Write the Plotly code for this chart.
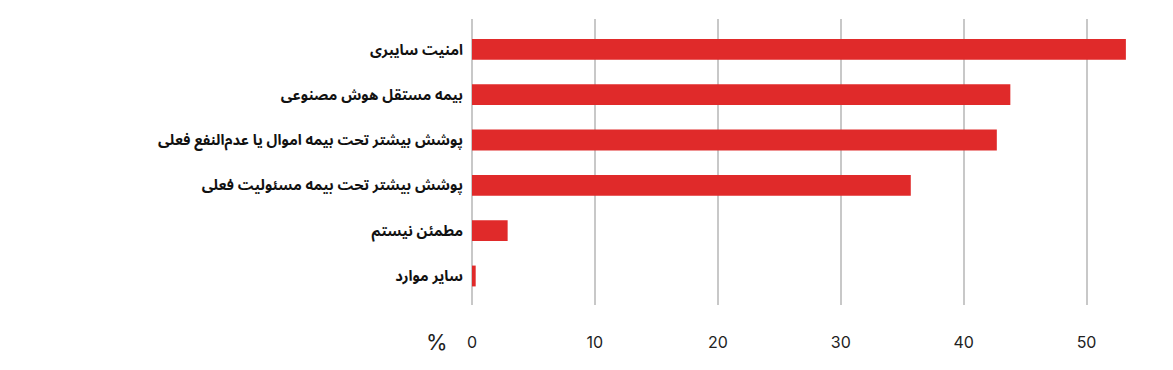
import plotly.graph_objects as go

categories = [
    "امنیت سایبری",
    "بیمه مستقل هوش مصنوعی",
    "پوشش بیشتر تحت بیمه اموال یا عدم‌النفع فعلی",
    "پوشش بیشتر تحت بیمه مسئولیت فعلی",
    "مطمئن نیستم",
    "سایر موارد",
]
values = [53.2, 43.8, 42.7, 35.7, 2.9, 0.3]
tick_vals = [0, 10, 20, 30, 40, 50]
tick_text = ["0", "10", "20", "30", "40", "50"]
unit_label = "%"

fig = go.Figure(
    go.Bar(
        x=values,
        y=categories,
        orientation="h",
        width=0.46,
        marker=dict(color="#e02a2a", line=dict(width=0)),
        hoverinfo="x+y",
    )
)

fig.update_layout(
    width=1173,
    height=370,
    margin=dict(l=472, r=25, t=19, b=65),
    paper_bgcolor="white",
    plot_bgcolor="white",
    showlegend=False,
    font=dict(family="DejaVu Sans, Noto Sans", color="#111111"),
    xaxis=dict(
        range=[0, 55],
        tickvals=tick_vals,
        ticktext=tick_text,
        showgrid=True,
        gridcolor="#c8c8c8",
        gridwidth=1.5,
        zeroline=True,
        zerolinecolor="#c8c8c8",
        zerolinewidth=1.5,
        showline=False,
        ticks="",
        tickfont=dict(family="Inter, Roboto, sans-serif", size=16, color="#222222"),
        ticklabelstandoff=26,
        fixedrange=True,
    ),
    yaxis=dict(
        type="category",
        range=[5.64, -0.67],
        showgrid=False,
        zeroline=False,
        showline=False,
        ticks="",
        ticklabelstandoff=8,
        tickfont=dict(family="Noto Sans Arabic, Noto Naskh Arabic, Vazirmatn, DejaVu Sans",
                      size=14.7, color="#111111", weight="bold"),
        fixedrange=True,
    ),
    annotations=[
        dict(
            text=unit_label,
            xref="paper",
            yref="paper",
            x=-0.052,
            y=-0.077,
            xanchor="center",
            yanchor="top",
            showarrow=False,
            font=dict(family="Inter, Roboto, sans-serif", size=22, color="#222222"),
        )
    ],
)

fig.write_html("out.html")
